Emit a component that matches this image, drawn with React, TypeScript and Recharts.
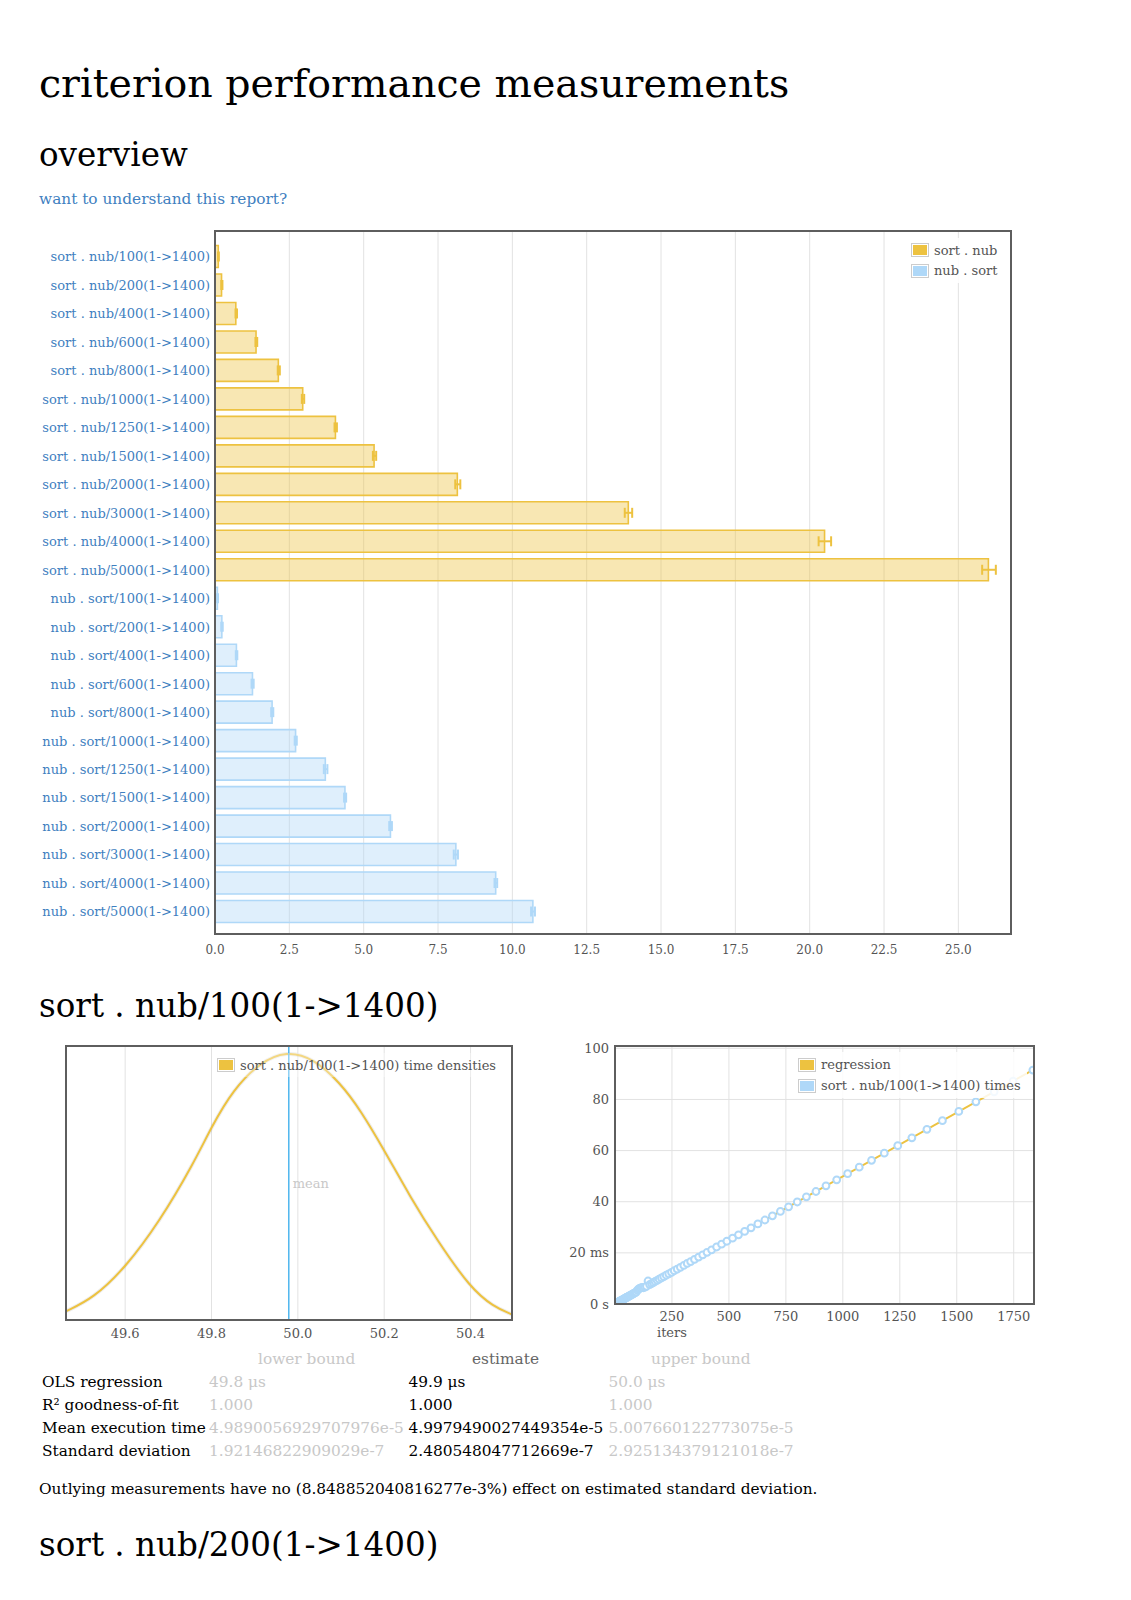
import React from 'react';
import {
  BarChart, Bar, XAxis, YAxis, CartesianGrid, ErrorBar, Cell,
  ComposedChart, Line, Scatter, ReferenceLine,
} from 'recharts';

const FONT = '"DejaVu Serif", serif';
const GOLD = '#edc240';
const BLUE = '#afd8f8';
const GOLD_FILL = 'rgba(237,194,64,0.4)';
const BLUE_FILL = 'rgba(175,216,248,0.4)';
const LINK = '#3f7fbf';
const AXIS_TXT = '#545454';
const GRID = '#e2e2e2';
const BODY = 15.35;

// ---------- overview data ----------
const sizes = ['100', '200', '400', '600', '800', '1000', '1250', '1500', '2000', '3000', '4000', '5000'];
const sortNubLabels = sizes.map((s) => `sort . nub/${s}(1->1400)`);
const nubSortLabels = sizes.map((s) => `nub . sort/${s}(1->1400)`);
const sortNubMeans = [0.11, 0.22, 0.70, 1.38, 2.13, 2.95, 4.05, 5.35, 8.15, 13.90, 20.50, 26.01];
const sortNubLow = [0.10, 0.21, 0.69, 1.36, 2.11, 2.92, 4.02, 5.31, 8.08, 13.78, 20.30, 25.80];
const sortNubHigh = [0.13, 0.25, 0.74, 1.42, 2.18, 3.00, 4.10, 5.42, 8.25, 14.03, 20.72, 26.26];
const nubSortMeans = [0.08, 0.23, 0.72, 1.26, 1.92, 2.71, 3.71, 4.37, 5.90, 8.10, 9.44, 10.69];
const nubSortLow = [0.07, 0.21, 0.70, 1.23, 1.89, 2.68, 3.66, 4.34, 5.86, 8.03, 9.40, 10.63];
const nubSortHigh = [0.10, 0.26, 0.75, 1.30, 1.96, 2.75, 3.78, 4.41, 5.95, 8.17, 9.49, 10.76];
const overviewTicks = [0, 2.5, 5, 7.5, 10, 12.5, 15, 17.5, 20, 22.5, 25];
const overviewMax = 26.77;

const overviewRows = [
  ...sortNubLabels.map((name, i) => ({
    name, group: 0, value: sortNubMeans[i],
    errGold: [sortNubMeans[i] - sortNubLow[i], sortNubHigh[i] - sortNubMeans[i]], errBlue: null,
  })),
  ...nubSortLabels.map((name, i) => ({
    name, group: 1, value: nubSortMeans[i], errGold: null,
    errBlue: [nubSortMeans[i] - nubSortLow[i], nubSortHigh[i] - nubSortMeans[i]],
  })),
];

// ---------- density data ----------
const densityX = [49.463, 49.526, 49.6, 49.68, 49.758, 49.8, 49.85, 49.912, 49.974, 50.036, 50.098, 50.145, 50.2, 50.26, 50.322, 50.4, 50.453, 50.496];
const densityY = [0.032, 0.079, 0.190, 0.360, 0.570, 0.705, 0.840, 0.940, 0.982, 0.955, 0.866, 0.766, 0.620, 0.450, 0.292, 0.116, 0.049, 0.020];
const densityRows = densityX.map((t, i) => ({ t, d: densityY[i] }));
const densityTicks = [49.6, 49.8, 50.0, 50.2, 50.4];
const densityDomain = [49.463, 50.496];
const meanTime = 49.979;

// ---------- regression data ----------
const regIters = [1, 2, 3, 4, 5, 6, 7, 8, 9, 10, 11, 12, 13, 14, 15, 16, 17, 18, 19, 20, 21, 22, 23, 24, 26, 27, 28, 30, 31, 33, 35, 37, 38, 40, 42, 45, 47, 49, 52, 54, 57, 60, 63, 66, 69, 73, 77, 80, 84, 89, 93, 98, 103, 108, 113, 119, 125, 131, 138, 145, 152, 160, 168, 176, 185, 194, 204, 214, 225, 236, 248, 260, 273, 287, 302, 317, 332, 349, 367, 385, 404, 424, 446, 468, 491, 516, 542, 569, 597, 627, 658, 691, 726, 762, 800, 840, 882, 926, 973, 1021, 1072, 1126, 1182, 1241, 1303, 1369, 1437, 1509, 1584, 1664, 1747, 1834];
const regTimes = [0.05, 0.10, 0.15, 0.20, 0.25, 0.30, 0.35, 0.40, 0.45, 0.50, 0.55, 0.60, 0.65, 0.70, 0.75, 0.80, 0.85, 0.90, 0.95, 1.00, 1.05, 1.10, 1.15, 1.20, 1.30, 1.35, 1.40, 1.50, 1.55, 1.65, 1.75, 1.85, 1.90, 2.00, 2.10, 2.25, 2.35, 2.45, 2.60, 2.70, 2.85, 3.00, 3.15, 3.30, 3.45, 3.65, 3.85, 4.00, 4.20, 4.45, 4.65, 5.35, 5.80, 6.10, 6.30, 6.50, 6.35, 6.60, 6.90, 9.00, 7.60, 8.00, 8.40, 8.80, 9.25, 9.70, 10.20, 10.70, 11.25, 11.80, 12.40, 13.00, 13.65, 14.35, 15.10, 15.85, 16.60, 17.45, 18.35, 19.25, 20.20, 21.20, 22.30, 23.40, 24.55, 25.75, 27.05, 28.40, 29.80, 31.30, 32.85, 34.50, 36.20, 38.00, 39.90, 41.90, 44.00, 46.20, 48.55, 50.95, 53.50, 56.20, 59.00, 61.90, 65.00, 68.30, 71.70, 75.30, 79.05, 83.00, 87.20, 91.50];
const regPoints = regIters.map((x, i) => ({ x, y: regTimes[i] }));
const regLineX = [0, 1839];
const regLineY = [0, 91.76];
const regLine = regLineX.map((x, i) => ({ x, y: regLineY[i] }));
const regXTicks = [250, 500, 750, 1000, 1250, 1500, 1750];
const regYTicks = [0, 20, 40, 60, 80, 100];
const regYTickLabels = ['0 s', '20 ms', '40', '60', '80', '100'];
const regXUnit = 'iters';
const regDomainX = [0, 1839];
const regDomainY = [0, 100.9];

// ---------- table ----------
const tableHeaders = ['lower bound', 'estimate', 'upper bound'];
const tableRows = [
  ['OLS regression', '49.8 μs', '49.9 μs', '50.0 μs'],
  ['R² goodness-of-fit', '1.000', '1.000', '1.000'],
  ['Mean execution time', '4.9890056929707976e-5', '4.9979490027449354e-5', '5.007660122773075e-5'],
  ['Standard deviation', '1.92146822909029e-7', '2.480548047712669e-7', '2.925134379121018e-7'],
];

const txt = (left: number, top: number, size: number, color: string, s: string, extra: any = {}) => (
  <div style={{ position: 'absolute', left, top, fontSize: size, lineHeight: `${size}px`, color, whiteSpace: 'nowrap', ...extra }}>{s}</div>
);

const Frame = ({ left, top, width, height }: any) => (
  <div style={{ position: 'absolute', left: left - 1, top: top - 1, width: width + 2, height: height + 2, border: '2px solid #5e5e5e', boxSizing: 'border-box', pointerEvents: 'none' }} />
);

const LegendBox = ({ left, top, width, rowH, items, swLeft, bg = 'rgba(255,255,255,0.85)' }: any) => (
  <div style={{ position: 'absolute', left, top, width, background: bg, paddingTop: 2, paddingBottom: 2 }}>
    {items.map((it: any, i: number) => (
      <div key={i} style={{ display: 'flex', alignItems: 'center', height: rowH, paddingLeft: swLeft }}>
        <div style={{ border: '1px solid #cccccc', padding: 1, background: '#fff' }}>
          <div style={{ width: 14, height: 10, background: it.color }} />
        </div>
        <div style={{ marginLeft: 5, fontSize: 13, color: AXIS_TXT, whiteSpace: 'nowrap' }}>{it.label}</div>
      </div>
    ))}
  </div>
);

const RegXTick = (props: any) => {
  const { x, y, payload } = props;
  return (
    <g>
      <text x={x} y={y} dy="0.71em" textAnchor="middle" fontSize={13} fill={AXIS_TXT} fontFamily={FONT}>{payload.value}</text>
      {payload.value === regXTicks[0] && (
        <text x={x} y={y + 16} dy="0.71em" textAnchor="middle" fontSize={13} fill={AXIS_TXT} fontFamily={FONT}>{regXUnit}</text>
      )}
    </g>
  );
};

const MeanLabel = (props: any) => {
  const vb = props.viewBox || {};
  return (
    <text x={(vb.x || 0) + 4} y={(vb.y || 0) + (vb.height || 0) / 2} dy="0.355em" fontSize={13} fill="#c8c8c8" fontFamily={FONT}>mean</text>
  );
};

export default function App() {
  return (
    <div style={{ position: 'absolute', left: 0, top: 0, width: 1131, height: 1600, background: '#fff', fontFamily: FONT, color: '#000' }}>
      {txt(39, 64, 39.5, '#000', 'criterion performance measurements')}
      {txt(39, 139, 32.6, '#000', 'overview')}
      {txt(39, 191.5, BODY, LINK, 'want to understand this report?')}

      {/* overview chart */}
      <div style={{ position: 'absolute', left: 0, top: 200 }}>
        <BarChart layout="vertical" width={1040} height={770} data={overviewRows}
          margin={{ top: 31, right: 29, bottom: 0, left: 0 }} barSize={22}>
          <CartesianGrid horizontal={false} stroke={GRID} />
          <XAxis type="number" domain={[0, overviewMax]} ticks={overviewTicks} allowDataOverflow
            tickFormatter={(v: number) => v.toFixed(1)} height={36} axisLine={false} tickLine={false}
            tickSize={6} tickMargin={5} tick={{ fontSize: 12, fill: AXIS_TXT, fontFamily: FONT }} />
          <YAxis type="category" dataKey="name" width={215} interval={0} axisLine={false} tickLine={false}
            tickSize={0} tickMargin={5} padding={{ top: 11.5, bottom: 8 }}
            tick={{ fontSize: 13, fill: LINK, fontFamily: FONT }} />
          <Bar dataKey="value" isAnimationActive={false} strokeWidth={1.6}>
            {overviewRows.map((r, i) => (
              <Cell key={i} fill={r.group === 0 ? GOLD_FILL : BLUE_FILL} stroke={r.group === 0 ? GOLD : BLUE} />
            ))}
            <ErrorBar dataKey="errGold" direction="x" width={5} stroke={GOLD} strokeWidth={2} isAnimationActive={false} />
            <ErrorBar dataKey="errBlue" direction="x" width={5} stroke={BLUE} strokeWidth={2} isAnimationActive={false} />
          </Bar>
        </BarChart>
      </div>
      <Frame left={215} top={231} width={796} height={703} />
      <LegendBox left={908} top={238} width={100} rowH={20.5} swLeft={3}
        items={[{ label: 'sort . nub', color: GOLD }, { label: 'nub . sort', color: BLUE }]} />

      {txt(39, 990, 32.6, '#000', 'sort . nub/100(1->1400)')}

      {/* density chart */}
      <div style={{ position: 'absolute', left: 0, top: 1030 }}>
        <ComposedChart width={530} height={330} data={densityRows} margin={{ top: 16, right: 18, bottom: 0, left: 66 }}>
          <CartesianGrid horizontal={false} stroke={GRID} />
          <XAxis type="number" dataKey="t" domain={densityDomain} ticks={densityTicks} allowDataOverflow
            tickFormatter={(v: number) => v.toFixed(1)} height={40} axisLine={false} tickLine={false}
            tickSize={4} tickMargin={5} tick={{ fontSize: 13, fill: AXIS_TXT, fontFamily: FONT }} />
          <YAxis hide domain={[0, 1]} />
          <Line type="basis" dataKey="d" stroke="rgba(0,0,0,0.07)" strokeWidth={4} dot={false} isAnimationActive={false} legendType="none" />
          <Line type="basis" dataKey="d" stroke={GOLD} strokeWidth={2} dot={false} isAnimationActive={false} />
          <ReferenceLine x={meanTime} stroke="#4fb6ee" strokeWidth={1.5} label={<MeanLabel />} />
        </ComposedChart>
      </div>
      <Frame left={66} top={1046} width={446} height={274} />
      <LegendBox left={214} top={1053} width={292} rowH={20} swLeft={3} bg="rgba(255,255,255,0.35)"
        items={[{ label: 'sort . nub/100(1->1400) time densities', color: GOLD }]} />

      {/* regression chart */}
      <div style={{ position: 'absolute', left: 560, top: 1030 }}>
        <ComposedChart width={490} height={330} margin={{ top: 16, right: 16, bottom: 0, left: 0 }}>
          <CartesianGrid stroke={GRID} />
          <XAxis type="number" dataKey="x" domain={regDomainX} ticks={regXTicks} allowDataOverflow height={56}
            axisLine={false} tickLine={false} tickSize={3} tickMargin={5} tick={<RegXTick />} />
          <YAxis type="number" domain={regDomainY} ticks={regYTicks} allowDataOverflow width={55}
            axisLine={false} tickLine={false} tickSize={2} tickMargin={4}
            tickFormatter={(v: number) => regYTickLabels[regYTicks.indexOf(v)]}
            tick={{ fontSize: 13, fill: AXIS_TXT, fontFamily: FONT }} />
          <Line data={regLine} dataKey="y" stroke={GOLD} strokeWidth={2} dot={false} isAnimationActive={false} />
          <Scatter data={regPoints} dataKey="y" isAnimationActive={false}
            shape={(p: any) => <circle cx={p.cx} cy={p.cy} r={3.4} fill="#fff" stroke={BLUE} strokeWidth={2} />} />
        </ComposedChart>
      </div>
      <Frame left={615} top={1046} width={419} height={258} />
      <LegendBox left={795} top={1052} width={232} rowH={21} swLeft={3}
        items={[{ label: 'regression', color: GOLD }, { label: 'sort . nub/100(1->1400) times', color: BLUE }]} />

      {/* table */}
      {txt(258, 1352, BODY, '#c8c8c8', tableHeaders[0])}
      {txt(472, 1352, BODY, '#666', tableHeaders[1])}
      {txt(651, 1352, BODY, '#c8c8c8', tableHeaders[2])}
      {tableRows.map((r, i) => (
        <React.Fragment key={i}>
          {txt(42, 1375 + i * 23, BODY, '#000', r[0])}
          {txt(209, 1375 + i * 23, BODY, '#c8c8c8', r[1])}
          {txt(408.5, 1375 + i * 23, BODY, '#000', r[2])}
          {txt(608.5, 1375 + i * 23, BODY, '#c8c8c8', r[3])}
        </React.Fragment>
      ))}
      {txt(39, 1481.5, BODY, '#000', 'Outlying measurements have no (8.848852040816277e-3%) effect on estimated standard deviation.')}

      {txt(39, 1529, 32.6, '#000', 'sort . nub/200(1->1400)')}
    </div>
  );
}
